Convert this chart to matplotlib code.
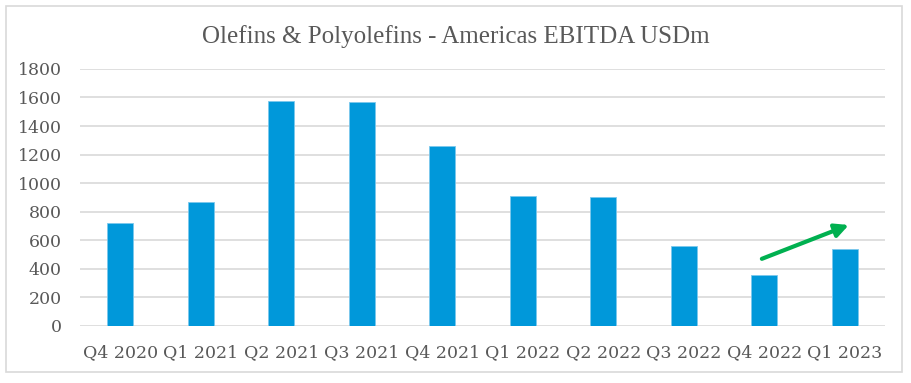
import matplotlib.pyplot as plt
from matplotlib.patches import Rectangle

# data
quarters = ['Q4 2020', 'Q1 2021', 'Q2 2021', 'Q3 2021', 'Q4 2021',
            'Q1 2022', 'Q2 2022', 'Q3 2022', 'Q4 2022', 'Q1 2023']
ebitda = [720, 865, 1578, 1571, 1262, 910, 905, 558, 359, 539]
yticks = [0, 200, 400, 600, 800, 1000, 1200, 1400, 1600, 1800]

# trend arrow (from Q4 2022 toward Q1 2023)
arrow_start = (7.97, 470)
arrow_end = (9.05, 707)

plt.rcParams['font.family'] = ['DejaVu Serif']

fig = plt.figure(figsize=(9.11, 3.83), dpi=100)
ax = fig.add_axes([0.0878, 0.149, 0.8837, 0.671])

x = list(range(len(quarters)))
ax.bar(x, ebitda, width=0.32, color='#0098DA', edgecolor='#7cc8ec', linewidth=0.6, zorder=3)

ax.set_xlim(-0.5, len(quarters) - 0.5)
ax.set_ylim(0, 1800)
ax.set_yticks(yticks)
ax.set_xticks(x)
ax.set_xticklabels(quarters)
ax.yaxis.grid(color='#d9d9d9', linewidth=1.2, zorder=0)
ax.tick_params(axis='both', length=0, labelsize=12.5, colors='#595959')
ax.tick_params(axis='x', pad=13)
ax.tick_params(axis='y', pad=13)
for side in ['top', 'right', 'left', 'bottom']:
    ax.spines[side].set_visible(False)

ax.annotate('', xy=arrow_end, xytext=arrow_start,
            arrowprops=dict(arrowstyle='-|>', color='#00B050', lw=3,
                            mutation_scale=20, shrinkA=0, shrinkB=0), zorder=5)

fig.text(0.5, 0.905, 'Olefins & Polyolefins - Americas EBITDA USDm',
         ha='center', va='center', fontsize=18, color='#595959',
         family='Liberation Serif')

# outer frame
fig.patches.append(Rectangle((6 / 911, 1 - 372 / 383), 896 / 911, 366 / 383,
                             transform=fig.transFigure, fill=False,
                             edgecolor='#d9d9d9', linewidth=1.2))

fig.savefig('out.png', dpi=100)
